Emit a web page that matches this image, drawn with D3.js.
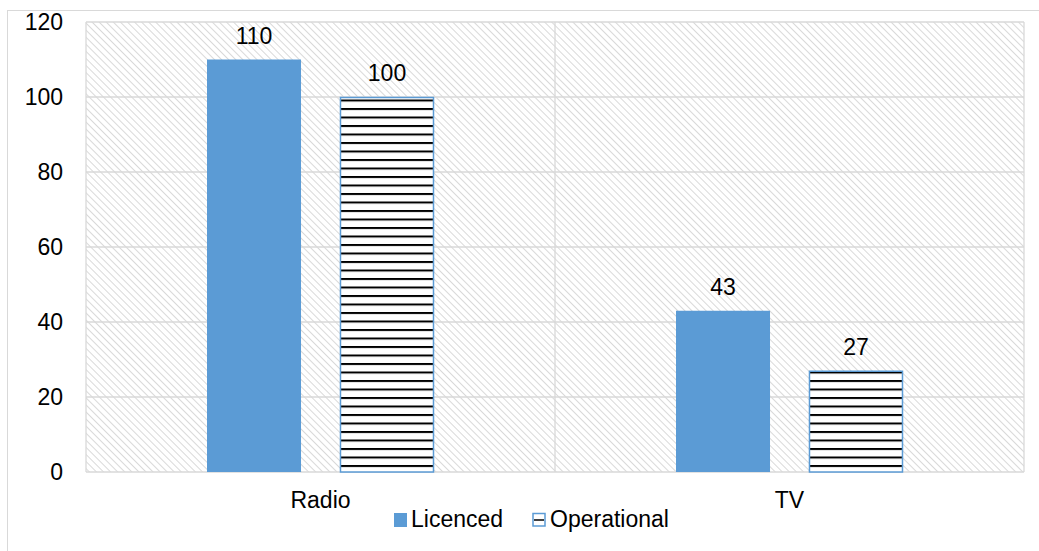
<!DOCTYPE html>
<html>
<head>
<meta charset="utf-8">
<script src="https://cdn.jsdelivr.net/npm/d3@7.9.0/dist/d3.min.js"></script>
<style>
  body { margin: 0; background: #fff; }
  text { font-family: "Liberation Sans", Arial, sans-serif; fill: #000; }
</style>
</head>
<body>
<script>
// Chart data
const categories = ["Radio", "TV"];
const seriesNames = ["Licenced", "Operational"];
const licenced = [110, 43];
const operational = [100, 27];
const yTicks = [0, 20, 40, 60, 80, 100, 120];

const width = 1039, height = 551;
const margin = { top: 22, right: 15, bottom: 79, left: 86 };
const fontSize = 23;

const svg = d3.select("body").append("svg")
    .attr("width", width)
    .attr("height", height);

const defs = svg.append("defs");

// light diagonal hatch for plot background
const bgPat = defs.append("pattern")
    .attr("id", "bg-hatch")
    .attr("patternUnits", "userSpaceOnUse")
    .attr("width", 5).attr("height", 5)
    .attr("patternTransform", "rotate(45)");
bgPat.append("rect").attr("width", 5).attr("height", 5).attr("fill", "#fff");
bgPat.append("line")
    .attr("x1", 0).attr("y1", 0).attr("x2", 5).attr("y2", 0)
    .attr("stroke", "#d9d9d9").attr("stroke-width", 2);

// horizontal stripes for "Operational"
const stripePat = defs.append("pattern")
    .attr("id", "h-stripes")
    .attr("patternUnits", "userSpaceOnUse")
    .attr("width", 10).attr("height", 8.5)
    .attr("y", margin.top + 1);
stripePat.append("rect").attr("width", 10).attr("height", 8.5).attr("fill", "#fff");
stripePat.append("rect").attr("y", 0).attr("width", 10).attr("height", 2).attr("fill", "#000");

// outer chart border
svg.append("rect")
    .attr("x", 7.5).attr("y", 10.5)
    .attr("width", width + 20).attr("height", height + 20)
    .attr("fill", "none")
    .attr("stroke", "#d9d9d9");

const x0 = d3.scaleBand()
    .domain(categories)
    .range([margin.left, width - margin.right])
    .padding(0);

const x1 = d3.scaleBand()
    .domain(seriesNames)
    .range([0, x0.bandwidth()])
    .paddingInner(0.293)
    .paddingOuter(0.91);

const y = d3.scaleLinear()
    .domain([0, 120])
    .range([height - margin.bottom, margin.top]);

// plot area background
svg.append("rect")
    .attr("x", margin.left).attr("y", margin.top)
    .attr("width", width - margin.left - margin.right)
    .attr("height", height - margin.top - margin.bottom)
    .attr("fill", "url(#bg-hatch)");

// horizontal gridlines
svg.append("g")
    .selectAll("line")
    .data(yTicks)
    .join("line")
    .attr("x1", margin.left).attr("x2", width - margin.right)
    .attr("y1", d => y(d)).attr("y2", d => y(d))
    .attr("stroke", "#d9d9d9").attr("stroke-width", 1.3);

// vertical gridlines (category boundaries)
svg.append("g")
    .selectAll("line")
    .data([...categories.map(c => x0(c)), x0.range()[1]])
    .join("line")
    .attr("x1", d => d).attr("x2", d => d)
    .attr("y1", margin.top).attr("y2", y(0))
    .attr("stroke", "#d9d9d9").attr("stroke-width", 1.3);

// y axis labels
svg.append("g")
    .selectAll("text")
    .data(yTicks)
    .join("text")
    .attr("x", 63)
    .attr("y", d => y(d))
    .attr("dy", "0.36em")
    .attr("text-anchor", "end")
    .style("font-size", fontSize + "px")
    .text(d => d);

// category labels
svg.append("g")
    .selectAll("text")
    .data(categories)
    .join("text")
    .attr("x", d => x0(d) + x0.bandwidth() / 2)
    .attr("y", 508)
    .attr("text-anchor", "middle")
    .style("font-size", fontSize + "px")
    .text(d => d);

// bars
const rows = categories.map((c, i) => ({ cat: c, values: [
    { key: "Licenced", value: licenced[i] },
    { key: "Operational", value: operational[i] }
] }));

const groups = svg.append("g")
    .selectAll("g")
    .data(rows)
    .join("g")
    .attr("transform", d => `translate(${x0(d.cat)},0)`);

groups.selectAll("rect")
    .data(d => d.values)
    .join("rect")
    .attr("x", d => x1(d.key) + (d.key === "Operational" ? 0.5 : 0))
    .attr("y", d => y(d.value) + (d.key === "Operational" ? 0.5 : 0))
    .attr("width", d => x1.bandwidth() - (d.key === "Operational" ? 1 : 0))
    .attr("height", d => y(0) - y(d.value) - (d.key === "Operational" ? 0.5 : 0))
    .attr("fill", d => d.key === "Licenced" ? "#5b9bd5" : "url(#h-stripes)")
    .attr("stroke", d => d.key === "Operational" ? "#5b9bd5" : "none")
    .attr("stroke-width", 1.5);

groups.selectAll("text")
    .data(d => d.values)
    .join("text")
    .attr("x", d => x1(d.key) + x1.bandwidth() / 2)
    .attr("y", d => y(d.value) - 16)
    .attr("text-anchor", "middle")
    .style("font-size", fontSize + "px")
    .text(d => d.value);

// legend
const legend = svg.append("g");
legend.append("rect")
    .attr("x", 394).attr("y", 513)
    .attr("width", 13).attr("height", 14)
    .attr("fill", "#5b9bd5");
legend.append("text")
    .attr("x", 411).attr("y", 527)
    .style("font-size", fontSize + "px")
    .text(seriesNames[0]);
legend.append("rect")
    .attr("x", 533).attr("y", 513.5)
    .attr("width", 12).attr("height", 12.5)
    .attr("fill", "#fff")
    .attr("stroke", "#5b9bd5").attr("stroke-width", 1.5);
legend.append("line")
    .attr("x1", 534).attr("x2", 544)
    .attr("y1", 520).attr("y2", 520)
    .attr("stroke", "#000").attr("stroke-width", 1.5);
legend.append("text")
    .attr("x", 550).attr("y", 527)
    .style("font-size", fontSize + "px")
    .text(seriesNames[1]);
</script>
</body>
</html>
